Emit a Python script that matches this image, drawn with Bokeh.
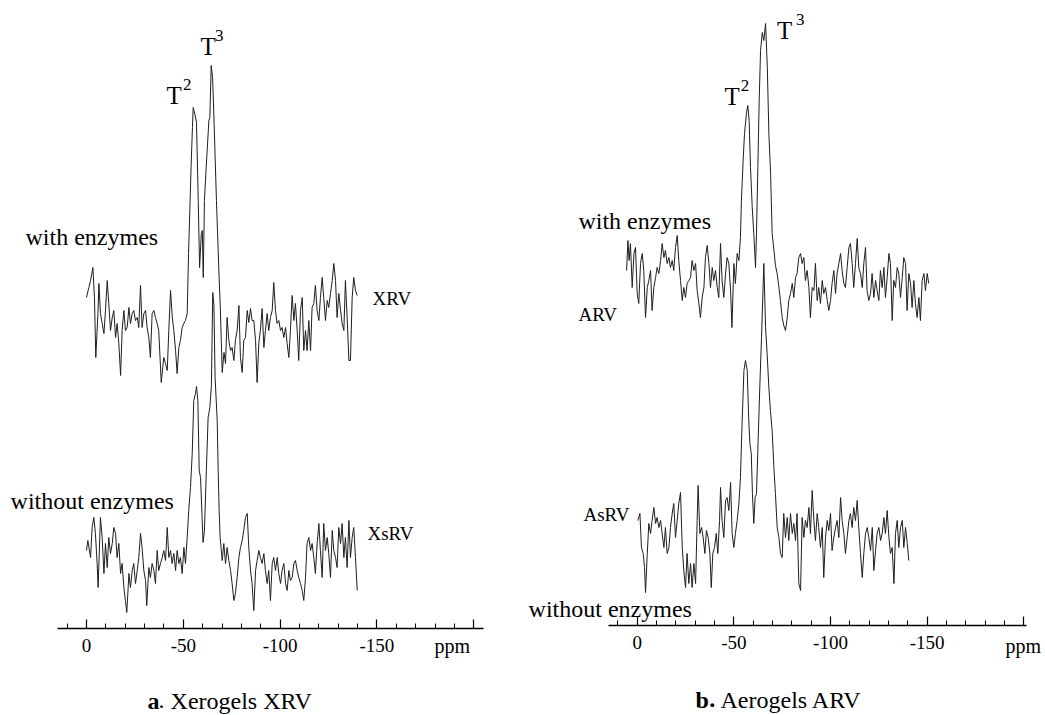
from bokeh.plotting import figure
from bokeh.layouts import row
from bokeh.models import Range1d, SingleIntervalTicker
from bokeh.core.properties import value
from bokeh.embed import file_html
from bokeh.resources import INLINE

# ---------------- data (chemical shift in ppm, intensity in a.u.) ----------------
XRV_PPM = [
    0, -1.2, -2.1, -3.3, -4.1, -4.8, -5.9, -6.4, -7.2, -8.1,
    -9.0, -9.8, -10.7, -11.5, -12.4, -13.3, -14.1, -15.0, -15.8, -16.7,
    -17.6, -18.4, -19.3, -20.1, -21.0, -21.9, -22.7, -23.6, -24.4, -25.3,
    -26.2, -27.0, -27.9, -28.7, -29.6, -30.5, -31.3, -32.2, -33.0, -33.9,
    -34.8, -35.6, -36.5, -37.3, -38.6, -39.9, -40.8, -41.7, -42.5, -43.4,
    -44.3, -45.1, -46.0, -46.8, -47.7, -48.5, -49.4, -50.2, -51.1, -52.0,
    -52.7, -54.0, -54.7, -55.1, -56.0, -56.8, -57.7, -58.4, -59.3, -59.8,
    -60.3, -60.9, -61.8, -63.2, -63.7, -64.4, -65.1, -65.7, -67.1, -68.3,
    -69.1, -70.1, -71.0, -71.8, -72.6, -73.5, -74.4, -75.2, -76.1, -76.9,
    -77.8, -78.7, -79.5, -80.4, -81.2, -82.1, -83.0, -83.8, -84.7, -85.5,
    -86.4, -87.3, -88.1, -89.0, -89.8, -90.7, -91.6, -92.4, -93.3, -94.1,
    -95.0, -95.9, -96.7, -97.6, -98.4, -99.3, -100.2, -101.0, -101.9, -102.8,
    -103.6, -104.5, -105.3, -106.2, -107.1, -107.9, -108.8, -109.6, -110.5, -111.4,
    -112.2, -113.1, -113.9, -114.8, -115.7, -116.5, -117.4, -118.2, -119.1, -120.0,
    -120.8, -121.7, -122.5, -123.4, -124.3, -125.1, -126.0, -126.9, -127.7, -128.6,
    -129.4, -130.3, -131.2, -132.0, -132.9, -133.7, -134.6, -135.5, -136.3, -137.2,
    -138.0, -138.9, -139.8,
]
XRV_INT = [
    15, 25, 32, 45, 15, -45, -1, 29, -1, -11,
    -21, 2, 32, 9, -18, -5, 2, -25, -11, -31,
    -63, -18, 2, -18, -15, 5, -11, -1, 2, -8,
    -5, -15, 27, -15, -1, 2, -15, -25, -45, -1,
    2, -5, -11, -18, -70, -45, -51, -58, -18, 22,
    -5, -18, -38, -61, -35, -28, -15, -11, -8, -1,
    59, 145, 185, 205, 198, 190, 112, 45, 79, 82,
    35, 112, 145, 192, 195, 247, 235, 202, 112, 45,
    5, -60, -40, -51, -5, -28, -38, -35, -48, -28,
    -18, 7, -45, -60, -28, -25, 2, -10, 4, -8,
    -8, -28, -70, -30, -18, 4, -35, -18, -1, -18,
    -5, 2, 30, 2, -11, -8, -18, -15, -25, -15,
    -31, -45, -18, 17, -8, 9, -18, -48, 2, 15,
    -38, -18, -38, -8, -38, 5, 9, 27, 2, -8,
    15, 35, 15, -8, 12, 5, 19, 32, 49, 32,
    -5, 19, 2, -11, -18, 32, -5, -48, -48, 15,
    35, 22, 17,
]

XSRV_PPM = [
    0, -0.7, -2.1, -2.9, -3.8, -4.6, -5.5, -6.0, -7.2, -8.1,
    -9.0, -9.8, -10.7, -11.5, -12.4, -13.3, -14.1, -15.0, -15.8, -16.7,
    -17.6, -18.4, -19.3, -20.1, -20.8, -21.9, -22.7, -23.6, -24.4, -25.3,
    -26.2, -27.0, -27.9, -28.7, -29.6, -30.5, -31.1, -32.2, -33.0, -33.9,
    -34.8, -35.6, -36.5, -37.3, -38.2, -39.1, -39.9, -40.8, -41.7, -42.5,
    -43.4, -44.2, -45.1, -46.0, -46.8, -47.7, -48.5, -49.4, -50.3, -51.1,
    -52.0, -52.8, -53.7, -54.6, -55.4, -56.3, -56.8, -57.5, -58.2, -58.9,
    -59.7, -60.2, -60.9, -61.9, -62.8, -63.7, -64.5, -65.2, -65.8, -66.4,
    -67.5, -68.0, -68.5, -69.0, -70.1, -70.9, -71.8, -72.6, -73.5, -74.4,
    -75.2, -76.1, -76.9, -77.8, -78.7, -79.5, -80.4, -81.2, -82.1, -83.0,
    -83.8, -84.7, -85.5, -86.4, -87.3, -88.1, -89.0, -89.8, -90.7, -91.6,
    -92.4, -93.3, -94.1, -95.0, -95.9, -96.7, -97.6, -98.5, -99.3, -100.2,
    -101.0, -101.9, -102.8, -103.6, -104.5, -105.3, -106.2, -107.1, -107.9, -108.8,
    -109.6, -110.5, -111.4, -112.2, -113.1, -113.9, -114.8, -115.7, -116.5, -117.4,
    -118.2, -119.1, -120.0, -120.8, -121.7, -122.5, -123.4, -124.3, -125.1, -126.0,
    -126.9, -127.7, -128.6, -129.4, -130.3, -131.2, -132.0, -132.9, -133.7, -134.6,
    -135.5, -136.3, -137.2, -138.0, -138.9, -139.8,
]
XSRV_INT = [
    10, 20, 3, 33, 43, 27, -3, -27, 43, 23,
    -13, 17, -7, 23, 7, 17, 33, 27, 3, 17,
    -13, -3, -27, -40, -52, -13, -27, -10, -3, -23,
    -10, 3, 27, 13, -10, -20, -45, -7, -17, -3,
    -10, -23, 10, -10, -3, 3, 10, 0, 33, 3,
    10, -3, 7, -10, 10, -3, 3, -13, 13, -3,
    23, 50, 73, 107, 160, 167, 174, 160, 90, 83,
    43, 18, 30, 90, 143, 153, 175, 268, 255, 183,
    140, 90, 50, 23, 0, 17, -3, 13, 0, -10,
    -23, -40, -33, -17, 3, 13, 20, 30, 43, 47,
    13, -10, -23, -50, -10, 0, 10, 3, -3, 7,
    -10, -23, -10, -40, -3, 3, -10, 3, -13, -23,
    -10, -3, -23, -30, -10, -20, -17, -3, 0, -10,
    -17, -23, -30, -40, -17, 17, 23, 10, 17, 3,
    -13, 17, 37, 10, -17, 37, 10, 23, 7, -17,
    30, 10, 3, -7, 33, 17, 37, 3, 23, -7,
    40, 3, 23, 33, 3, -30,
]

ARV_PPM = [
    5.5, 4.8, 4.2, 3.5, 2.6, 1.7, 0.9, 0, -0.8, -1.7,
    -2.6, -3.4, -4.3, -5.2, -6.0, -6.9, -7.7, -8.6, -9.5, -10.3,
    -11.2, -12.1, -12.9, -13.8, -14.6, -15.5, -16.4, -17.2, -18.1, -18.9,
    -19.8, -20.7, -21.5, -22.4, -23.3, -24.1, -25.0, -25.8, -26.7, -27.6,
    -28.4, -29.3, -30.2, -31.0, -31.9, -32.7, -33.6, -34.5, -35.3, -36.2,
    -37.1, -37.9, -38.8, -39.6, -40.5, -41.4, -42.2, -43.1, -43.9, -44.8,
    -45.7, -46.5, -47.4, -48.3, -49.0, -50.0, -50.8, -51.7, -52.6, -53.4,
    -53.9, -54.8, -55.5, -56.5, -57.2, -57.9, -58.6, -59.5, -60.3, -61.2,
    -61.7, -62.4, -63.1, -63.8, -64.7, -65.5, -66.4, -67.3, -68.1, -69.0,
    -69.8, -70.7, -71.5, -72.4, -73.3, -74.1, -75.0, -75.8, -76.7, -77.6,
    -78.4, -79.3, -80.2, -81.0, -81.9, -82.7, -83.6, -84.5, -85.3, -86.2,
    -87.0, -87.9, -88.8, -89.6, -90.5, -91.4, -92.2, -93.1, -93.9, -94.8,
    -95.7, -96.5, -97.4, -98.3, -99.1, -100.0, -100.8, -101.7, -102.6, -103.4,
    -104.3, -105.2, -106.0, -106.9, -107.7, -108.6, -109.5, -110.3, -111.2, -112.0,
    -112.9, -113.8, -114.6, -115.5, -116.4, -117.2, -118.1, -118.9, -119.8, -120.7,
    -121.5, -122.4, -123.3, -124.1, -125.0, -125.8, -126.7, -127.6, -128.4, -129.3,
    -130.2, -131.0, -131.9, -132.7, -133.6, -134.5, -135.3, -136.2, -137.1, -137.9,
    -138.8, -139.6, -140.5, -141.4, -142.2, -143.1, -143.9, -144.8, -145.7, -146.5,
    -147.4, -148.3, -149.1, -150.0, -150.8,
]
ARV_INT = [
    7, 37, 17, 34, -10, 24, 30, -16, -26, 14,
    24, 7, -40, -10, -3, 7, -33, -10, 0, 10,
    4, 17, 34, 20, 27, 14, 20, 10, 17, 7,
    30, 42, 17, -3, -23, -10, -20, -6, -3, 0,
    17, 7, 14, -13, -26, -40, -20, -10, 20, 32,
    14, -10, 10, -3, 7, -10, -20, 34, -3, -20,
    4, 20, 14, -13, -50, 14, -6, 24, 17, 40,
    77, 117, 144, 164, 172, 157, 110, 70, 44, 10,
    44, 110, 177, 227, 245, 237, 254, 210, 144, 104,
    44, 28, 12, 4, -10, -23, -40, -48, -53, -40,
    -23, -16, -6, -20, 0, 4, 20, 24, 14, 20,
    -3, 7, -10, -40, -10, -13, 14, -23, -10, -26,
    -3, -16, -10, -23, -33, -23, -6, 7, -16, 4,
    14, 24, 7, -6, -10, 10, 30, 34, 14, -10,
    14, 39, 10, 4, -10, 14, 30, -13, -23, -16,
    4, -20, -3, -13, -23, 7, -10, 10, -20, 0,
    24, 14, -43, -3, -10, 10, 4, -20, 0, 20,
    14, -33, 4, -6, -30, -3, -26, -40, -20, -43,
    -3, 4, -13, 4, -6,
]

ASRV_PPM = [
    -0.3, -1.4, -2.2, -3.1, -3.8, -4.3, -5.2, -6.0, -6.9, -7.7,
    -8.6, -9.5, -10.3, -11.2, -12.1, -12.9, -13.8, -14.6, -15.5, -16.4,
    -17.2, -18.1, -18.9, -19.8, -20.7, -21.5, -22.4, -23.3, -24.1, -25.0,
    -25.8, -26.7, -27.6, -28.4, -29.3, -30.2, -31.0, -31.5, -32.4, -33.3,
    -34.1, -35.0, -35.8, -36.7, -37.6, -38.3, -39.1, -40.0, -40.9, -41.7,
    -42.6, -43.1, -43.9, -44.8, -45.7, -46.5, -47.4, -48.3, -49.1, -50.0,
    -50.8, -51.7, -52.6, -53.4, -54.3, -55.2, -56.0, -56.9, -57.7, -58.3,
    -59.0, -59.6, -60.3, -61.0, -61.7, -62.6, -63.4, -64.3, -65.5, -66.4,
    -67.2, -68.1, -68.9, -69.8, -70.7, -71.5, -72.4, -73.3, -74.1, -75.0,
    -75.8, -76.7, -77.6, -78.4, -79.3, -80.2, -81.0, -81.9, -82.7, -83.6,
    -84.5, -85.3, -86.2, -87.0, -87.9, -88.8, -89.6, -90.5, -91.4, -92.2,
    -93.1, -93.9, -94.8, -95.7, -96.5, -97.4, -98.3, -99.1, -100.0, -100.8,
    -101.7, -102.6, -103.4, -104.3, -105.2, -106.0, -106.9, -107.7, -108.6, -109.5,
    -110.3, -111.2, -112.0, -112.9, -113.8, -114.6, -115.5, -116.4, -117.2, -118.1,
    -119.0, -119.8, -120.7, -121.6, -122.4, -123.3, -124.1, -125.0, -125.9, -126.7,
    -127.6, -128.4, -129.3, -130.2, -131.0, -131.9, -132.8, -133.6, -134.5, -135.3,
    -136.2, -137.1, -137.9, -138.8, -139.7, -140.5,
]
ASRV_INT = [
    17, 24, -10, -16, -30, -55, -16, 14, 4, 17,
    30, 14, 20, 10, 17, 4, -10, 10, -16, -10,
    10, 24, 34, 0, 17, 34, 45, -10, -33, -50,
    -16, -46, -26, -50, -26, -46, 17, 52, 4, 10,
    0, -16, 7, 0, -16, -50, -16, -10, 4, -16,
    17, 50, 17, 0, 37, 40, 27, 55, 4, -10,
    4, 17, 34, 60, 117, 167, 177, 167, 117, 94,
    84, 44, 14, 40, 44, 100, 150, 200, 274, 210,
    184, 150, 127, 107, 70, 44, 10, 0, -16, -20,
    24, 0, 20, -3, 24, 4, 14, -3, 24, -46,
    -53, 20, 0, 17, 10, 30, 4, 47, 17, -3,
    24, 10, -10, 10, -40, 0, 17, 7, 24, -13,
    0, 10, 17, 0, 40, 17, 4, -16, 0, 17,
    24, 10, 30, 17, 37, 10, -16, -40, -16, 4,
    10, 0, -13, 10, -33, -13, 4, 10, -3, 4,
    20, 4, 27, 0, -16, -10, -46, 4, 17, -10,
    10, 17, -10, 10, -6, -23,
]

TICK_VALUES = [0, -50, -100, -150, -200]
TICK_LABELS = ["0", "-50", "-100", "-150", ""]
TICK_INTERVAL = 50
MINOR_PER_MAJOR = 5

# ---------------- layout constants (positions, not data) ----------------
SERIF = "Liberation Serif"
H = 715
OFF = {"XRV": 403, "XsRV": 155, "ARV": 438, "AsRV": 178}
LINE_COLOR = "#1e1e1e"
TEXT_DY = 7  # compensates the renderer's baseline offset


def panel(width, x_start, x_end, bounds, axis_y):
    p = figure(width=width, height=H, x_range=Range1d(x_start, x_end),
               y_range=Range1d(0, H), output_backend="svg", toolbar_location=None,
               y_axis_location=None, title=None, min_border=0,
               min_border_left=0, min_border_right=0, min_border_top=0,
               min_border_bottom=0)
    p.grid.visible = False
    p.outline_line_color = None
    p.background_fill_color = "white"
    p.border_fill_color = "white"
    ax = p.xaxis[0]
    ax.ticker = SingleIntervalTicker(interval=TICK_INTERVAL, num_minor_ticks=MINOR_PER_MAJOR)
    ax.bounds = bounds
    ax.fixed_location = axis_y
    ax.major_label_overrides = dict(zip(TICK_VALUES, TICK_LABELS))
    ax.axis_line_color = "black"
    ax.axis_line_width = 1.5
    ax.major_tick_in = 9
    ax.major_tick_out = 0
    ax.minor_tick_in = 5
    ax.minor_tick_out = 0
    ax.major_tick_line_color = "black"
    ax.minor_tick_line_color = "black"
    ax.major_tick_line_width = 1.2
    ax.minor_tick_line_width = 1
    ax.major_label_standoff = 10
    ax.major_label_text_font = SERIF
    ax.major_label_text_font_size = "19px"
    ax.major_label_text_color = "black"
    return p


def put(p, x, y, s, size, style="normal"):
    p.text(x=[x], y=[y + TEXT_DY], text=[s], text_font=value(SERIF), text_font_size=size,
           text_font_style=style, text_align="left", text_baseline="alphabetic",
           text_color="black")


def trace(p, xs, ys, off):
    p.line(xs, [off + v for v in ys], line_color=LINE_COLOR, line_width=1.0)


# ---------------- panel a: xerogels ----------------
pa = panel(522, 44.41, -225.15, (-205, 15), 87)
trace(pa, XRV_PPM, XRV_INT, OFF["XRV"])
trace(pa, XSRV_PPM, XSRV_INT, OFF["XsRV"])
put(pa, 31.5, 472, "with enzymes", "24px")
put(pa, -147.7, 410, "XRV", "19px")
put(pa, 39.2, 208, "without enzymes", "24px")
put(pa, -145.1, 175, "XsRV", "19px")
put(pa, -41.3, 612.7, "T", "25px")
put(pa, -49.8, 624.3, "2", "17px")
put(pa, -58.9, 662.3, "T", "25px")
put(pa, -66.3, 673.3, "3", "17px")
put(pa, -179.7, 63, "ppm", "20px")
put(pa, -31.5, 8, "a", "24px", "bold")
put(pa, -37.2, 8, ".", "24px")
put(pa, -43.4, 8, "Xerogels XRV", "24px")

# ---------------- panel b: aerogels ----------------
pb = panel(523, 59.34, -211.2, (-201.5, 15), 90)
trace(pb, ARV_PPM, ARV_INT, OFF["ARV"])
trace(pb, ASRV_PPM, ASRV_INT, OFF["AsRV"])
put(pb, 30.4, 487.3, "with enzymes", "24px")
put(pb, 30.4, 394, "ARV", "19px")
put(pb, 27.8, 194.3, "AsRV", "19px")
put(pb, 56.2, 100, "without enzymes", "24px")
put(pb, -45.2, 611.7, "T", "25px")
put(pb, -53.6, 623.3, "2", "17px")
put(pb, -72.3, 677.7, "T", "25px")
put(pb, -82.1, 689, "3", "17px")
put(pb, -190.5, 63, "ppm", "20px")
put(pb, -30.2, 9, "b", "24px", "bold")
put(pb, -37.2, 9, ".", "24px", "bold")
put(pb, -43.1, 9, "Aerogels ARV", "24px")

layout = row(pa, pb, spacing=0)
open("out.html", "w").write(file_html(layout, INLINE))
